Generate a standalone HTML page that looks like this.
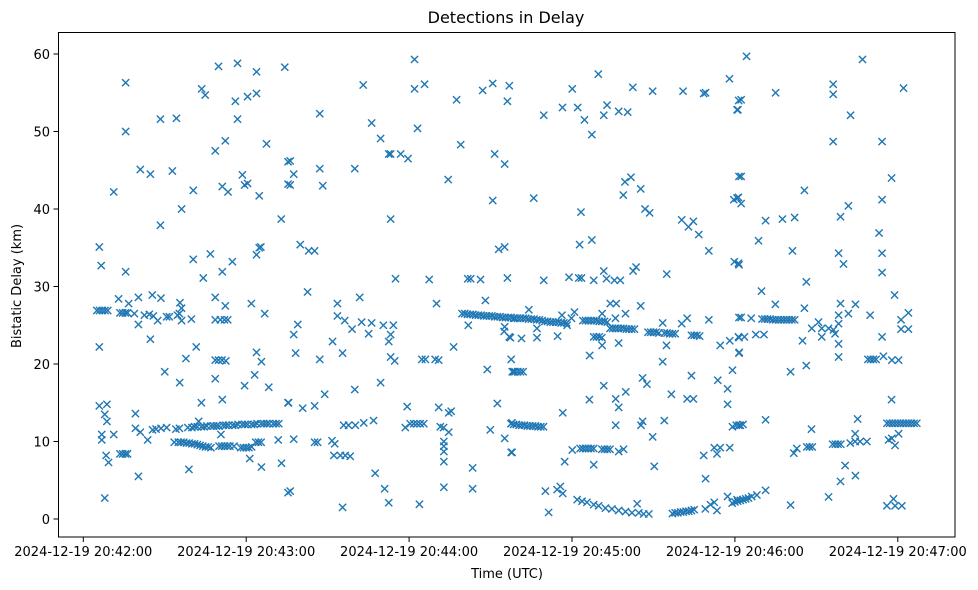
<!DOCTYPE html>
<html><head><meta charset="utf-8"><style>
html,body{margin:0;padding:0;background:#fff;}
svg{display:block;font-family:"DejaVu Sans","Liberation Sans",sans-serif;}
</style></head><body>
<svg id="chart" width="978" height="590" viewBox="0 0 978 590">
<rect x="0" y="0" width="978" height="590" fill="#fff"/>
<text x="506" y="23" font-size="16" text-anchor="middle" fill="#000">Detections in Delay</text>
<g id="marks"></g>
<g id="xaxis"></g>
<g id="yaxis"></g>
<rect x="58.5" y="32.5" width="896.5" height="504.5" fill="none" stroke="#000" stroke-width="1"/>
<text x="507" y="578" font-size="13" text-anchor="middle">Time (UTC)</text>
<text x="21" y="286" font-size="13" text-anchor="middle" transform="rotate(-90 21 286)">Bistatic Delay (km)</text>
</svg>
<script>
const xTickSeconds = [0, 60, 120, 180, 240, 300];
const xTickLabels = ["2024-12-19 20:42:00","2024-12-19 20:43:00","2024-12-19 20:44:00","2024-12-19 20:45:00","2024-12-19 20:46:00","2024-12-19 20:47:00"];
const yTicks = [0, 10, 20, 30, 40, 50, 60];
// detections: [seconds after 20:42:00, bistatic delay km]
const detections = [
[15.6,56.3],[15.6,50.0],[49.8,58.4],[56.8,58.8],[63.8,57.7],[74.2,58.3],[43.6,55.5],[44.9,54.7],[56.0,53.9],[60.5,54.5],[63.8,54.9],[56.8,51.6],[28.4,51.6],[34.3,51.7],[52.3,48.8],[48.6,47.5],[67.5,48.4],[21.0,45.1],[24.7,44.5],[32.8,44.9],[11.2,42.2],[40.5,42.4],[51.2,42.9],[53.3,42.2],[58.6,44.4],[59.4,43.1],[60.5,43.3],[64.8,41.7],[36.2,40.0],[28.4,37.9],[72.9,38.7],[75.4,46.1],[75.4,43.2],
[5.9,35.1],[6.6,32.7],[15.6,31.9],[40.5,33.5],[46.8,34.2],[44.2,31.1],[51.2,31.9],[54.9,33.2],[63.8,34.1],[64.8,35.0],[65.4,35.1],
[5,26.9],[6,26.9],[7,26.9],[8,26.9],[9,26.9],[13.0,28.4],[16.7,27.8],[20.3,28.6],[25.4,28.9],[28.6,28.5],[13.5,26.6],[14.5,26.6],[15.5,26.6],[16.3,26.6],[18.8,26.5],[20.3,25.1],[22.5,26.3],[24.3,26.4],[25.8,26.2],[27.4,25.6],[30.7,26.1],[31.7,26.1],[34.7,26.3],[35.6,27.9],[36.2,27.2],[36.2,25.6],[35.4,26.5],[39.8,25.8],[48.6,28.6],[48.6,25.7],[50.5,25.7],[52.0,25.7],[53.2,25.7],[52.3,27.5],[61.9,27.8],[66.8,26.5],
[5.9,22.2],[24.7,23.2],[41.6,22.2],[37.8,20.7],[48.6,20.5],[49.8,20.5],[51.1,20.5],[52.5,20.4],[63.8,21.5],[65.6,20.3],[30.0,19.0],[35.5,17.6],[48.6,18.1],[63.1,18.6],[59.4,17.2],[68.3,17.0],
[5.9,14.6],[8.7,14.8],[7.9,13.5],[8.7,12.6],[19.2,13.6],[43.5,15.0],[51.2,15.4],[75.4,15.0],[6.8,10.9],[6.8,10.2],[11.2,10.9],[19.2,11.7],[21.0,11.2],[23.7,10.2],[25.5,11.5],[26.8,11.6],[28.6,11.7],[30.7,11.8],[34.1,11.6],[35.4,11.7],
[38.5,11.8],[40,11.8],[41,11.9],[42,11.9],[43.5,11.9],[44.5,11.9],[45.5,12.0],[47,12.0],[48,12.0],[49,12.0],[50,12.0],[51.5,12.1],[52.5,12.1],[53.5,12.1],[55,12.1],[56,12.1],[57,12.2],[58.5,12.2],[59.5,12.2],[60.5,12.2],[62,12.2],[63,12.2],[64,12.3],[65.5,12.3],[66.5,12.3],[67.5,12.3],[68.5,12.3],[70,12.3],[71,12.3],[72,12.3],[42.5,12.6],
[33.5,9.9],[35,9.9],[36,9.9],[37,9.9],[38,9.8],[39,9.8],[40,9.7],[41,9.7],[42,9.6],[43,9.5],[44,9.4],[45,9.3],[46,9.3],[47,9.2],[50,9.4],[51,9.4],[52,9.4],[53,9.4],[54,9.4],[55.5,9.4],[58,9.2],[59,9.2],[60,9.2],[61,9.2],[62,9.3],[63.5,9.9],[64.5,9.9],[65.5,9.9],[50.7,10.9],[71.8,10.2],
[8.4,8.2],[9.3,7.3],[13.5,8.4],[14.5,8.4],[15.5,8.4],[16.3,8.4],[61.3,7.8],[65.6,6.7],[73.0,7.2],[20.3,5.5],[38.9,6.4],[7.9,2.7],[75.4,3.4],
[122.0,59.3],[103.1,56.0],[122.0,55.5],[125.7,56.1],[147.1,55.3],[150.8,56.2],[156.9,55.9],[156.2,53.9],[137.5,54.1],[87.1,52.3],[106.2,51.1],[123.1,50.4],[109.5,49.1],[112.5,47.1],[113.2,47.1],[116.9,47.1],[119.6,46.5],[139.0,48.3],[151.5,47.1],[155.2,45.8],[76.2,46.2],[77.5,44.5],[76.2,43.1],[87.1,45.2],[88.2,43.0],[100.0,45.2],[134.4,43.8],[150.8,41.1],[113.2,38.7],[79.9,35.4],[83.0,34.6],[85.2,34.6],[153.0,34.8],[155.2,35.1],[115.0,31.0],[127.4,30.9],[141.6,31.0],[142.7,31.0],[146.3,30.9],[156.2,31.1],[82.6,29.3],[93.6,27.8],[101.8,28.6],[130.1,27.8],[148.1,28.2],
[139.5,26.5],[140.5,26.5],[141.5,26.4],[142.5,26.4],[143.5,26.4],[144.5,26.3],[145.5,26.3],[146.5,26.3],[147.5,26.2],[148.5,26.2],[149.5,26.2],[150.5,26.2],[151.5,26.1],[152.5,26.1],[153.5,26.1],[154.5,26.0],[155.5,26.0],[156.5,26.0],[157.5,26.0],[158.5,25.9],
[141.8,25.0],[155.2,24.8],[155.0,24.2],[156.9,23.5],[79.0,25.1],[77.5,23.8],[78.2,21.4],[93.6,26.2],[96.3,25.6],[99.0,24.5],[102.5,25.4],[106.2,25.3],[105.1,23.9],[110.5,25.0],[114.2,25.0],[113.2,23.8],[112.5,22.9],[91.8,22.9],[95.5,21.4],[87.1,20.6],[113.2,20.9],[114.7,20.4],[124.7,20.6],[126.0,20.6],[129.6,20.6],[130.9,20.5],[136.4,22.2],[148.8,19.3],[157.6,20.6],[158.4,19.0],
[109.5,17.6],[100.0,16.7],[88.9,16.1],[75.6,15.0],[80.8,14.3],[85.2,14.6],[119.3,14.5],[130.9,14.4],[134.6,13.7],[135.5,13.9],[152.5,14.9],[95.9,12.1],[97.7,12.1],[100.2,12.1],[103.3,12.4],[106.9,12.7],[118.6,11.8],[120.4,12.3],[121.7,12.3],[122.9,12.3],[124.1,12.3],[125.4,12.3],[131.5,11.9],[132.7,11.8],[134.6,11.2],[132.8,10.0],[132.8,9.4],[132.8,8.7],[132.8,7.4],[149.9,11.5],[155.2,10.4],[157.9,12.4],[157.6,8.6],[77.5,10.3],[85.2,9.9],[86.3,9.9],[91.6,10.1],[92.6,9.7],[92.3,8.2],[94.7,8.2],[96.5,8.2],[98.3,8.1],[107.5,5.9],[111.0,3.9],[112.5,2.1],[123.8,1.9],[132.8,4.1],[143.4,6.6],[143.4,3.9],[95.5,1.5],[76.2,3.6],
[189.7,57.4],[180.1,55.5],[176.5,53.1],[182.1,53.1],[169.6,52.1],[184.6,51.5],[187.3,49.6],[191.7,52.1],[192.9,53.4],[197.2,52.6],[200.5,52.5],[202.4,55.7],[209.7,55.2],[220.9,55.2],[228.5,54.9],[229.2,55.0],[238.0,56.8],[241.4,54.0],[240.8,52.8],[199.5,43.5],[201.7,44.1],[198.9,41.8],[205.3,42.6],[206.9,40.0],[208.6,39.5],[165.9,41.4],[183.3,39.6],[182.8,35.4],[187.3,36.0],[220.4,38.6],[222.9,37.7],[224.7,38.4],[226.7,36.7],[230.4,34.6],[241.5,44.2],[239.6,41.2],[240.8,41.4],[239.8,33.2],[241.5,32.8],
[169.6,30.8],[178.9,31.2],[182.5,31.1],[183.5,31.1],[188.0,30.8],[191.7,32.0],[192.7,31.0],[195.6,30.8],[197.8,30.8],[202.5,32.0],[203.6,32.5],[214.9,31.6],[194.1,27.8],[196.3,27.8],[205.3,27.5],[164.1,27.0],
[159,25.9],[160,25.9],[161,25.9],[162,25.9],[163,25.9],[164,25.8],[165,25.8],[166,25.8],[167,25.7],[168,25.7],[169,25.6],[170,25.5],[171,25.5],[172,25.4],[173,25.4],[174,25.4],[175,25.4],[176,25.3],[177,25.3],[178,25.3],
[184,25.6],[185,25.6],[186,25.6],[187,25.6],[188,25.6],[189,25.6],[190,25.5],[191,25.5],[192,25.5],[193,25.4],[194,24.6],[195,24.6],[196,24.6],[197,24.6],[198,24.6],[199,24.6],[200,24.5],[201,24.5],[202,24.5],[203,24.5],[208,24.1],[209,24.1],[210,24.1],[211,24.1],[212,24.0],[214,24.0],[215,24.0],[216,23.9],[217,23.9],[218,23.9],[224,23.7],[225,23.7],[226,23.7],[227,23.6],
[167.1,24.6],[167.1,23.4],[161.4,23.3],[157.3,23.4],[174.7,23.6],[176.3,26.3],[180.9,26.7],[178.2,25.0],[179.8,25.9],[191.1,26.5],[196.0,25.9],[199.7,26.5],[188,23.5],[189,23.5],[190,23.5],[191,23.4],[191.1,22.4],[197.2,22.7],[186.5,21.1],[213.4,25.3],[214.8,22.4],[213.4,20.3],[222.4,25.9],[220.4,25.2],[230.4,25.7],[234.6,22.4],[238.1,23.0],[241.5,23.4],[241.5,21.4],[241.5,26.0],
[158,19.0],[159,19.0],[160,19.0],[161,19.0],[162,19.0],[186.4,15.4],[191.7,17.2],[196.1,15.5],[197.2,14.4],[199.8,16.4],[206.0,18.2],[207.6,17.4],[216.6,16.1],[222.4,15.5],[224.7,15.5],[224.0,18.5],[233.7,17.9],[237.3,16.8],[237.3,14.8],[239.1,19.2],[176.6,13.7],[196.1,12.1],[205.4,12.1],[206.0,12.6],[214.0,12.7],[209.7,10.6],[239.1,11.9],[241.5,12.1],
[157.5,12.3],[158.5,12.2],[159.5,12.2],[160.5,12.1],[161.5,12.1],[162.5,12.1],[163.5,12.0],[164.5,12.0],[165.5,12.0],[166.5,12.0],[167.5,11.9],[168.5,11.9],[169.5,11.9],
[157.9,8.6],[180.1,8.9],[183,9.1],[184,9.1],[185,9.1],[186,9.1],[187,9.1],[188,9.1],[191,9.0],[192,9.0],[193,9.0],[194,9.0],[197.2,8.7],[199.0,9.0],[177.3,7.4],[188.0,7.0],[210.3,6.8],[228.5,8.2],[232.4,9.2],[233.4,8.4],[234.6,9.2],[238.1,9.2],[229.2,5.2],[170.2,3.6],[174.5,3.8],[175.7,4.2],[176.6,3.3],[171.4,0.85],
[181.9,2.5],[183.7,2.3],[185.5,2.15],[188,1.85],[189.8,1.7],[192.3,1.4],[194.7,1.3],[197.2,1.1],[199.7,0.95],[202.1,0.8],[204,1.97],[204.6,0.8],[206.4,0.65],[208.3,0.65],
[217,0.7],[218,0.8],[219,0.8],[220,0.9],[221,0.9],[222,1.0],[223,1.0],[224,1.1],[225,1.2],[229.1,1.3],[231,1.85],[232.4,2.15],[233.4,1.1],[237.3,2.9],[239,2.05],[240.8,2.5],
[244.3,59.7],[287.0,59.3],[242.3,54.1],[241.1,52.8],[255.0,55.0],[276.2,56.1],[276.2,54.8],[302.1,55.6],[282.6,52.1],[276.2,48.7],[294.2,48.7],[242.3,44.2],[241.3,41.5],[242.3,40.7],[265.6,42.4],[297.7,44.0],[294.2,41.2],[281.8,40.4],[278.9,39.0],[251.3,38.5],[257.5,38.7],[262.0,38.9],[248.7,35.9],[293.1,36.9],[294.2,34.3],[294.2,31.8],[261.2,34.6],[278.2,34.3],[280.0,32.9],[241.3,33.0],[266.3,30.6],[249.8,29.4],[298.8,28.9],
[254.9,27.7],[265.6,27.2],[278.9,27.8],[284.4,27.7],[281.8,26.5],[289.8,26.3],[242.3,26.0],[246.0,25.9],
[250,25.8],[251,25.8],[252,25.8],[253,25.8],[254,25.7],[255,25.7],[256,25.7],[257,25.7],[258,25.7],[259,25.7],[260,25.7],[261,25.7],[262,25.7],
[241.3,23.5],[243.5,23.5],[247.7,23.8],[250.7,23.8],[241.6,21.5],[264.9,23.0],[266.3,19.8],[260.5,19.0],
[268.3,24.6],[270.8,25.4],[272.0,24.6],[272.0,23.5],[274.5,24.6],[276.3,24.4],[276.9,23.9],[278.2,25.2],[278.2,26.3],[278.2,22.6],[278.2,20.9],[294.2,23.5],[301.2,25.7],[301.2,24.5],[303.9,26.6],[303.9,24.5],
[289,20.6],[290,20.6],[291,20.6],[292,20.6],[294.7,21.0],[297.8,20.5],[300.3,20.5],[297.7,15.4],
[240.5,12.1],[242,12.1],[243,12.2],[251.3,12.8],[268.2,11.6],[261.7,8.5],[262.8,9.1],[266.5,9.3],[267.5,9.3],[268.5,9.3],[276,9.65],[277,9.65],[278,9.65],[279,9.65],[282.5,9.8],[284.3,11.0],[284.3,10.0],[286.1,10.0],[288.6,10.0],[285.2,12.9],[280.6,6.9],[278.9,4.85],[284.4,5.6],[274.5,2.85],[260.5,1.8],
[240,2.2],[241,2.3],[242,2.4],[243,2.5],[244,2.6],[245,2.7],[246.2,2.9],[248.1,3.1],[251.3,3.7],
[296,12.35],[297,12.35],[298,12.35],[299,12.35],[300,12.35],[301,12.35],[302,12.35],[303,12.35],[304,12.35],[305,12.35],[306,12.35],[307,12.35],
[296.6,10.2],[297.8,10.4],[299.0,9.5],[300.3,11.0],[296,1.7],[298.4,2.6],[299,1.7],[301.5,1.7]
];

const NS = "http://www.w3.org/2000/svg";
const X0 = 83.3, PX_PER_SEC = 2.715;
const Y0 = 519, PX_PER_KM = 7.75;
function xScale(s){ return X0 + s * PX_PER_SEC; }
function yScale(v){ return Y0 - v * PX_PER_KM; }

const marks = document.getElementById('marks');
detections.forEach(function(p){
  const cx = xScale(p[0]), cy = yScale(p[1]), r = 3.6;
  const path = document.createElementNS(NS, 'path');
  path.setAttribute('d', 'M' + (cx - r) + ' ' + (cy - r) + 'L' + (cx + r) + ' ' + (cy + r) + 'M' + (cx - r) + ' ' + (cy + r) + 'L' + (cx + r) + ' ' + (cy - r));
  path.setAttribute('stroke', '#1f77b4');
  path.setAttribute('stroke-width', '1.4');
  path.setAttribute('fill', 'none');
  
  
  marks.appendChild(path);
});

const xaxis = document.getElementById('xaxis');
xTickSeconds.forEach(function(s, i){
  const x = xScale(s);
  const t = document.createElementNS(NS, 'line');
  t.setAttribute('x1', x); t.setAttribute('x2', x);
  t.setAttribute('y1', 537); t.setAttribute('y2', 542);
  t.setAttribute('stroke', '#000');
  
  
  xaxis.appendChild(t);
  const lb = document.createElementNS(NS, 'text');
  lb.setAttribute('x', x); lb.setAttribute('y', 556);
  lb.setAttribute('font-size', '13');
  lb.setAttribute('text-anchor', 'middle');
  lb.textContent = xTickLabels[i];
  
  
  xaxis.appendChild(lb);
});

const yaxis = document.getElementById('yaxis');
yTicks.forEach(function(v){
  const y = yScale(v);
  const t = document.createElementNS(NS, 'line');
  t.setAttribute('x1', 53.5); t.setAttribute('x2', 58.5);
  t.setAttribute('y1', y); t.setAttribute('y2', y);
  t.setAttribute('stroke', '#000');
  
  
  yaxis.appendChild(t);
  const lb = document.createElementNS(NS, 'text');
  lb.setAttribute('x', 50); lb.setAttribute('y', y + 5);
  lb.setAttribute('font-size', '13');
  lb.setAttribute('text-anchor', 'end');
  lb.textContent = String(v);
  
  
  yaxis.appendChild(lb);
});
</script>
</body></html>
